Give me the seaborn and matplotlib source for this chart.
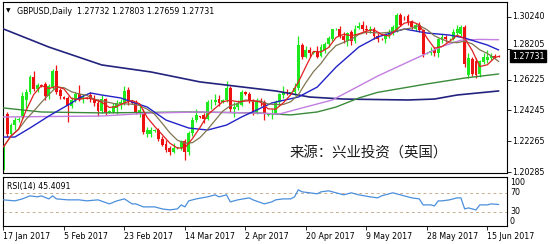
import matplotlib
matplotlib.use("Agg")
import matplotlib.pyplot as plt
import matplotlib.transforms as mtransforms
import numpy as np
import pandas as pd
import seaborn as sns

# ---------------- GBPUSD daily bars (17 Jan 2017 -> 19 Jun 2017) ----------------
opens = [
    1.2040, 1.2400, 1.2270, 1.2330, 1.2362, 1.2380, 1.2490, 1.2540, 1.2640, 1.2560,
    1.2588, 1.2595, 1.2515, 1.2575, 1.2675, 1.2555, 1.2510, 1.2505, 1.2455, 1.2490,
    1.2530, 1.2495, 1.2505, 1.2525, 1.2495, 1.2470, 1.2420, 1.2495, 1.2410, 1.2415,
    1.2440, 1.2465, 1.2470, 1.2555, 1.2480, 1.2470, 1.2415, 1.2415, 1.2270, 1.2275,
    1.2290, 1.2300, 1.2240, 1.2210, 1.2180, 1.2160, 1.2180, 1.2180, 1.2225, 1.2160,
    1.2280, 1.2360, 1.2385, 1.2395, 1.2370, 1.2475, 1.2475, 1.2495, 1.2475, 1.2490,
    1.2565, 1.2430, 1.2445, 1.2460, 1.2540, 1.2530, 1.2485, 1.2410, 1.2485, 1.2475,
    1.2395, 1.2400, 1.2410, 1.2475, 1.2520, 1.2545, 1.2535, 1.2540, 1.2565, 1.2845,
    1.2770, 1.2810, 1.2790, 1.2805, 1.2775, 1.2810, 1.2850, 1.2885, 1.2945, 1.2950,
    1.2905, 1.2870, 1.2925, 1.2870, 1.2955, 1.2975, 1.2950, 1.2940, 1.2950, 1.2905,
    1.2885, 1.2880, 1.2905, 1.2930, 1.2940, 1.3040, 1.3020, 1.3030, 1.2990, 1.2950,
    1.2975, 1.2940, 1.2790, 1.2790, 1.2810, 1.2795, 1.2875, 1.2895, 1.2880, 1.2885,
    1.2920, 1.2915, 1.2960, 1.2650, 1.2755, 1.2740, 1.2655, 1.2735, 1.2745, 1.2760,
    1.2775, 1.27732,
]
highs = [
    1.2200, 1.2412, 1.2345, 1.2380, 1.2380, 1.2545, 1.2560, 1.2650, 1.2675, 1.2600,
    1.2595, 1.2605, 1.2595, 1.2690, 1.2715, 1.2570, 1.2515, 1.2515, 1.2510, 1.2545,
    1.2590, 1.2530, 1.2512, 1.2545, 1.2520, 1.2500, 1.2520, 1.2505, 1.2425, 1.2470,
    1.2490, 1.2500, 1.2580, 1.2575, 1.2490, 1.2490, 1.2450, 1.2430, 1.2315, 1.2320,
    1.2302, 1.2310, 1.2260, 1.2235, 1.2195, 1.2215, 1.2192, 1.2235, 1.2240, 1.2290,
    1.2380, 1.2430, 1.2390, 1.2405, 1.2490, 1.2500, 1.2530, 1.2520, 1.2495, 1.2615,
    1.2580, 1.2475, 1.2490, 1.2555, 1.2548, 1.2545, 1.2500, 1.2505, 1.2505, 1.2490,
    1.2405, 1.2430, 1.2490, 1.2535, 1.2580, 1.2560, 1.2545, 1.2600, 1.2905, 1.2860,
    1.2840, 1.2830, 1.2805, 1.2835, 1.2850, 1.2865, 1.2905, 1.2950, 1.2955, 1.2965,
    1.2930, 1.2930, 1.2940, 1.2970, 1.2990, 1.3000, 1.2975, 1.2965, 1.2960, 1.2920,
    1.2890, 1.2920, 1.2950, 1.2970, 1.3050, 1.3050, 1.3030, 1.3045, 1.3005, 1.2985,
    1.2990, 1.2950, 1.2800, 1.2830, 1.2830, 1.2890, 1.2915, 1.2910, 1.2890, 1.2945,
    1.2970, 1.2975, 1.2975, 1.2790, 1.2770, 1.2760, 1.2750, 1.2795, 1.2810, 1.2790,
    1.2785, 1.27803,
]
lows = [
    1.2030, 1.2255, 1.2258, 1.2300, 1.2348, 1.2372, 1.2440, 1.2530, 1.2550, 1.2545,
    1.2575, 1.2490, 1.2495, 1.2560, 1.2530, 1.2500, 1.2495, 1.2350, 1.2440, 1.2480,
    1.2485, 1.2470, 1.2495, 1.2480, 1.2455, 1.2385, 1.2410, 1.2395, 1.2405, 1.2405,
    1.2400, 1.2430, 1.2460, 1.2460, 1.2465, 1.2400, 1.2380, 1.2275, 1.2255, 1.2255,
    1.2285, 1.2225, 1.2195, 1.2160, 1.2140, 1.2150, 1.2175, 1.2170, 1.2108, 1.2135,
    1.2260, 1.2350, 1.2375, 1.2345, 1.2360, 1.2430, 1.2460, 1.2450, 1.2470, 1.2480,
    1.2415, 1.2380, 1.2425, 1.2455, 1.2525, 1.2470, 1.2395, 1.2400, 1.2450, 1.2365,
    1.2390, 1.2370, 1.2400, 1.2455, 1.2505, 1.2520, 1.2530, 1.2520, 1.2555, 1.2755,
    1.2760, 1.2765, 1.2785, 1.2760, 1.2765, 1.2795, 1.2830, 1.2870, 1.2940, 1.2890,
    1.2860, 1.2840, 1.2845, 1.2860, 1.2950, 1.2935, 1.2915, 1.2920, 1.2880, 1.2865,
    1.2875, 1.2860, 1.2890, 1.2910, 1.2930, 1.2965, 1.3005, 1.2975, 1.2950, 1.2935,
    1.2925, 1.2770, 1.2785, 1.2780, 1.2775, 1.2770, 1.2855, 1.2865, 1.2875, 1.2875,
    1.2900, 1.2905, 1.2700, 1.2635, 1.2645, 1.2635, 1.2640, 1.2720, 1.2730, 1.2745,
    1.2760, 1.27659,
]
closes = [
    1.2195, 1.2270, 1.2330, 1.2362, 1.2372, 1.2515, 1.2545, 1.2640, 1.2560, 1.2590,
    1.2580, 1.2515, 1.2580, 1.2675, 1.2540, 1.2515, 1.2500, 1.2455, 1.2490, 1.2530,
    1.2495, 1.2510, 1.2500, 1.2495, 1.2470, 1.2420, 1.2495, 1.2410, 1.2420, 1.2450,
    1.2470, 1.2475, 1.2550, 1.2475, 1.2470, 1.2415, 1.2425, 1.2285, 1.2300, 1.2300,
    1.2297, 1.2240, 1.2205, 1.2170, 1.2160, 1.2185, 1.2188, 1.2225, 1.2160, 1.2280,
    1.2360, 1.2395, 1.2380, 1.2370, 1.2475, 1.2478, 1.2490, 1.2470, 1.2490, 1.2565,
    1.2430, 1.2445, 1.2470, 1.2545, 1.2530, 1.2485, 1.2410, 1.2485, 1.2475, 1.2400,
    1.2400, 1.2410, 1.2475, 1.2530, 1.2545, 1.2535, 1.2540, 1.2565, 1.2845, 1.2770,
    1.2810, 1.2790, 1.2800, 1.2770, 1.2830, 1.2850, 1.2890, 1.2945, 1.2950, 1.2905,
    1.2875, 1.2920, 1.2870, 1.2945, 1.2965, 1.2950, 1.2940, 1.2950, 1.2905, 1.2885,
    1.2880, 1.2910, 1.2930, 1.2960, 1.3040, 1.2975, 1.3015, 1.2985, 1.2960, 1.2970,
    1.2940, 1.2785, 1.2795, 1.2805, 1.2795, 1.2880, 1.2895, 1.2880, 1.2885, 1.2925,
    1.2945, 1.2960, 1.2720, 1.2760, 1.2660, 1.2650, 1.2740, 1.2765, 1.2770, 1.2775,
    1.2770, 1.27731,
]

# ---------------- moving averages (bar index -> value) ----------------
ma_fast_bars = [0, 2, 4, 6, 8, 10, 12, 14, 16, 18, 20, 22, 24, 26, 28, 30, 32, 34, 36, 38,
                40, 42, 44, 46, 48, 50, 52, 54, 56, 58, 60, 62, 64, 66, 68, 70, 72, 74, 76, 78,
                80, 82, 84, 86, 88, 90, 92, 94, 96, 98, 100, 102, 104, 106, 108, 110, 112, 114,
                116, 118, 120, 122, 124, 126, 128, 130, 131]
ma5 = [1.2190, 1.2260, 1.2303, 1.2425, 1.2526, 1.2583, 1.2565, 1.2578, 1.2562, 1.2500,
       1.2494, 1.2505, 1.2494, 1.2476, 1.2443, 1.2449, 1.2473, 1.2488, 1.2467, 1.2379,
       1.2321, 1.2268, 1.2214, 1.2182, 1.2184, 1.2243, 1.2315, 1.2396, 1.2438, 1.2480,
       1.2489, 1.2480, 1.2484, 1.2488, 1.2477, 1.2434, 1.2432, 1.2472, 1.2525, 1.2606,
       1.2706, 1.2803, 1.2800, 1.2828, 1.2893, 1.2913, 1.2904, 1.2915, 1.2934, 1.2942,
       1.2912, 1.2902, 1.2944, 1.2984, 1.2995, 1.2974, 1.2890, 1.2824, 1.2834, 1.2867,
       1.2906, 1.2887, 1.2809, 1.2706, 1.2717, 1.2764, 1.2771]
ma10 = [1.2190, 1.2260, 1.2303, 1.2368, 1.2419, 1.2475, 1.2526, 1.2574, 1.2570, 1.2544,
        1.2530, 1.2521, 1.2496, 1.2486, 1.2475, 1.2464, 1.2466, 1.2464, 1.2456, 1.2432,
        1.2399, 1.2341, 1.2280, 1.2233, 1.2213, 1.2217, 1.2250, 1.2302, 1.2361, 1.2419,
        1.2454, 1.2468, 1.2491, 1.2484, 1.2484, 1.2465, 1.2462, 1.2462, 1.2480, 1.2525,
        1.2603, 1.2673, 1.2726, 1.2792, 1.2841, 1.2861, 1.2881, 1.2912, 1.2927, 1.2923,
        1.2921, 1.2926, 1.2935, 1.2945, 1.2954, 1.2969, 1.2943, 1.2903, 1.2881, 1.2863,
        1.2859, 1.2869, 1.2851, 1.2813, 1.2790, 1.2757, 1.2738]

ma20_bars = [0, 3, 7, 12, 18, 20, 23, 26, 31, 34, 38, 43, 49, 54, 59, 63, 67, 71, 78, 83,
             88, 94, 99, 106, 112, 118, 122, 128, 131]
ma20 = [1.2253, 1.2253, 1.2311, 1.2388, 1.2472, 1.2504, 1.2536, 1.2523, 1.2504, 1.2478,
        1.2446, 1.2362, 1.2311, 1.2298, 1.2330, 1.2382, 1.2427, 1.2472, 1.2510, 1.2574,
        1.2703, 1.2831, 1.2896, 1.2947, 1.2921, 1.2908, 1.2889, 1.2844, 1.2812]

ma50_bars = [0, 26, 39, 52, 67, 73, 79, 87, 92, 99, 107, 116, 121, 126, 131]
ma50 = [1.2382, 1.2388, 1.2407, 1.2414, 1.2407, 1.2401, 1.2440, 1.2491, 1.2555, 1.2645,
        1.2735, 1.2835, 1.2875, 1.2880, 1.2878]

ma100_bars = [0, 10, 26, 49, 67, 76, 83, 88, 94, 99, 112, 122, 131]
ma100 = [1.2440, 1.2414, 1.2408, 1.2414, 1.2408, 1.2395, 1.2414, 1.2446, 1.2504, 1.2540,
         1.2594, 1.2632, 1.2658]

ma200_bars = [0, 12, 26, 39, 52, 72, 81, 90, 107, 114, 120, 131]
ma200 = [1.2947, 1.2831, 1.2716, 1.2671, 1.2607, 1.2549, 1.2510, 1.2497, 1.2491, 1.2497,
         1.2523, 1.2549]

# ---------------- RSI(14) ----------------
rsi_bars = [0, 3, 5, 7, 9, 10, 12, 13, 14, 17, 20, 22, 25, 28, 30, 32, 34, 35, 37, 40,
            42, 44, 46, 47, 48, 49, 51, 54, 56, 57, 59, 60, 62, 65, 66, 69, 71, 72, 74, 76,
            77, 78, 79, 81, 83, 84, 86, 90, 92, 94, 97, 99, 100, 103, 106, 108, 110, 111,
            113, 114, 115, 116, 118, 120, 121, 122, 123, 124, 125, 126, 128, 129, 131]
rsi = [54.9, 52.8, 56.9, 63.1, 61.1, 63.1, 56.9, 63.1, 56.9, 54.9, 54.9, 52.8, 54.9, 46.6,
       52.8, 56.9, 46.6, 46.6, 40.4, 40.4, 36.2, 34.2, 36.2, 44.5, 40.4, 52.8, 56.9, 61.1,
       65.2, 61.1, 65.2, 50.7, 54.9, 59.0, 54.9, 46.6, 50.7, 54.9, 56.9, 56.9, 61.1, 75.6,
       71.4, 69.4, 67.3, 71.4, 73.5, 65.2, 69.4, 65.2, 61.1, 59.0, 63.1, 69.4, 63.1, 59.0,
       56.9, 44.5, 44.5, 42.4, 52.8, 52.8, 54.9, 59.0, 59.0, 36.2, 38.3, 36.2, 34.2, 44.5,
       44.5, 46.6, 45.4]
rsi_levels = [0, 30, 70, 100]

# ---------------- axis labels ----------------
price_levels = [1.30240, 1.28205, 1.26225, 1.24245, 1.22265, 1.20285]
date_ticks = [0, 16, 32, 48, 64, 80, 96, 112, 128]
date_labels = ["17 Jan 2017", "5 Feb 2017", "23 Feb 2017", "14 Mar 2017", "2 Apr 2017",
               "20 Apr 2017", "9 May 2017", "28 May 2017", "15 Jun 2017"]
header = "GBPUSD,Daily  1.27732 1.27803 1.27659 1.27731"
rsi_header = "RSI(14) 45.4091"
watermark = "来源：兴业投资（英国）"

# ---------------- styling ----------------
sns.set_theme(style="white", rc={"axes.edgecolor": "black", "axes.linewidth": 0.8})
plt.rcParams["font.family"] = ["DejaVu Sans"]
FS = 5.7
BULL, BEAR = "#1ee81e", "#ee1111"

W, H = 550, 244
fig = plt.figure(figsize=(W / 100, H / 100), dpi=100)
fig.patch.set_facecolor("white")


def box(x0, y0, x1, y1):
    return [x0 / W, 1 - y1 / H, (x1 - x0) / W, (y1 - y0) / H]


ax = fig.add_axes(box(3, 2, 507, 173))
ax2 = fig.add_axes(box(3, 177, 507, 226))
for a in (ax, ax2):
    a.set_facecolor("white")
    for s in a.spines.values():
        s.set_color("black")
        s.set_linewidth(0.8)

# candles
bars = pd.DataFrame({"bar": np.arange(len(closes)), "open": opens, "high": highs,
                     "low": lows, "close": closes})
cols = np.where(bars["close"] > bars["open"], BULL, BEAR)
ax.vlines(bars["bar"], bars["low"], bars["high"], colors=cols, lw=0.9, zorder=2)
body_lo = np.minimum(bars["open"], bars["close"])
body_h = np.maximum((bars["close"] - bars["open"]).abs(), 0.00025)
ax.bar(bars["bar"], body_h, bottom=body_lo, width=0.76, color=cols, linewidth=0, zorder=2)

# moving averages
lines = [
    (ma200_bars, ma200, "#23237e", 1.2),
    (ma100_bars, ma100, "#3a8a3a", 1.0),
    (ma50_bars, ma50, "#c27ee0", 1.0),
    (ma20_bars, ma20, "#2222c8", 1.0),
    (ma_fast_bars, ma10, "#7f7550", 0.9),
    (ma_fast_bars, ma5, "#e02020", 0.9),
]
for xs, ys, c, lw in lines:
    sns.lineplot(x=xs, y=ys, ax=ax, color=c, lw=lw, estimator=None, sort=False, zorder=3)

ax.set_xlim(-0.13, 133.2)
ax.set_ylim(1.20221, 1.31203)
ax.set_xticks([])
ax.set_xlabel("")
ax.set_ylabel("")
ax.yaxis.tick_right()
ax.set_yticks(price_levels)
ax.set_yticklabels([])
ax.tick_params(axis="y", direction="out", length=3, width=0.6, right=True, left=False,
               colors="black")

# price scale labels; the one next to the last-price marker is nudged upward
last = closes[-1]
ytr = mtransforms.blended_transform_factory(ax.transAxes, ax.transData)
for v in price_levels:
    dy = 4 if abs(v - last) < 0.006 else 0
    t = mtransforms.offset_copy(ytr, fig=fig, x=5, y=dy, units="dots")
    ax.text(1.0, v, f"{v:.5f}", transform=t, ha="left", va="center", fontsize=FS,
            color="black", clip_on=False)

# last price marker
tr = mtransforms.offset_copy(ytr, fig=fig, x=5, y=0, units="dots")
ax.text(1.0, last, f"{last:.5f}", transform=tr, ha="left", va="center", color="white",
        fontsize=FS, clip_on=False, zorder=10,
        bbox=dict(boxstyle="square,pad=0.22", fc="black", ec="black"))

# RSI panel
for lv in (30, 70):
    ax2.axhline(lv, color="#c8ae90", lw=0.7, ls=(0, (3, 3)), zorder=1)
sns.lineplot(x=rsi_bars, y=rsi, ax=ax2, color="#4a8fdc", lw=0.9, estimator=None, sort=False,
             zorder=3)
ax2.set_xlim(-0.13, 133.2)
ax2.set_ylim(1, 102)
ax2.set_xlabel("")
ax2.set_ylabel("")
ax2.set_yticks([])
ax2.set_xticks(date_ticks)
ax2.set_xticklabels(date_labels)
for lab in ax2.get_xticklabels():
    lab.set_ha("left")
ax2.tick_params(axis="x", direction="out", length=3, width=0.6, pad=1.5,
                labelsize=FS, colors="black", bottom=True)

rtr = mtransforms.offset_copy(mtransforms.blended_transform_factory(ax2.transAxes, ax2.transData),
                              fig=fig, x=3, y=0, units="dots")
for lv in rsi_levels:
    va = "top" if lv == 100 else ("bottom" if lv == 0 else "center")
    ax2.text(1.0, lv, str(lv), transform=rtr, ha="left", va=va, fontsize=FS,
             color="black", clip_on=False)

# captions
fig.text(6 / W, 1 - 11 / H, "▼", fontsize=4.2, color="black", va="center", ha="left")
fig.text(17 / W, 1 - 11 / H, header, fontsize=FS, color="black", va="center", ha="left")
fig.text(7 / W, 1 - 187 / H, rsi_header, fontsize=FS, color="black", va="center", ha="left")
fig.text(369 / W, 1 - 153 / H, watermark, fontsize=10.4, color="#1e1e1e", va="center",
         ha="center", family=["Noto Sans CJK SC", "DejaVu Sans"])

fig.savefig("out.png", dpi=100, facecolor="white")
